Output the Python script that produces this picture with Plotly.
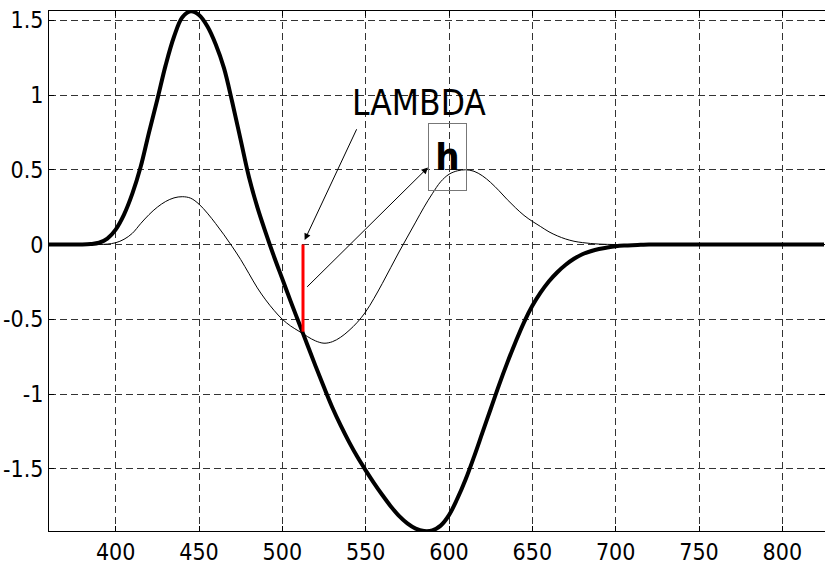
import plotly.graph_objects as go

x_vals = list(range(360, 830, 5))

thick_pts = {
    385: 0.003, 390: 0.012, 395: 0.04, 400: 0.1, 405: 0.2, 410: 0.34,
    415: 0.52, 420: 0.75, 425: 0.97, 430: 1.2, 435: 1.39, 440: 1.52, 445: 1.56,
    450: 1.535, 455: 1.46, 460: 1.34, 465: 1.18, 470: 0.95, 475: 0.7,
    480: 0.45, 485: 0.25, 490: 0.08, 495: -0.08, 500: -0.23, 505: -0.38,
    510: -0.525, 515: -0.67, 520: -0.815, 525: -0.955, 530: -1.09, 535: -1.21,
    540: -1.32, 545: -1.42, 550: -1.51, 555: -1.595, 560: -1.675, 565: -1.75,
    570: -1.815, 575: -1.865, 580: -1.9, 585: -1.916, 590: -1.912, 595: -1.88,
    600: -1.81, 605: -1.7, 610: -1.57, 615: -1.42, 620: -1.26, 625: -1.1,
    630: -0.94, 635: -0.79, 640: -0.65, 645: -0.52, 650: -0.41, 655: -0.32,
    660: -0.245, 665: -0.185, 670: -0.135, 675: -0.095, 680: -0.065,
    685: -0.045, 690: -0.03, 695: -0.02, 700: -0.012, 705: -0.007,
    710: -0.004, 715: -0.002,
}
thin_pts = {
    395: 0.003, 400: 0.012, 405: 0.035, 410: 0.075, 415: 0.14, 420: 0.2,
    425: 0.25, 430: 0.288, 435: 0.312, 440: 0.32, 445: 0.31, 450: 0.27,
    455: 0.21, 460: 0.14, 465: 0.065, 470: -0.015, 475: -0.1, 480: -0.195,
    485: -0.29, 490: -0.37, 495: -0.44, 500: -0.5, 505: -0.545, 510: -0.58,
    515: -0.615, 520: -0.645, 525: -0.66, 530: -0.65, 535: -0.62, 540: -0.575,
    545: -0.52, 550: -0.45, 555: -0.36, 560: -0.26, 565: -0.155, 570: -0.05,
    575: 0.05, 580: 0.15, 585: 0.25, 590: 0.34, 595: 0.42, 600: 0.47,
    605: 0.493, 610: 0.5, 615: 0.49, 620: 0.46, 625: 0.415, 630: 0.36,
    635: 0.3, 640: 0.245, 645: 0.195, 650: 0.155, 655: 0.12, 660: 0.085,
    665: 0.058, 670: 0.037, 675: 0.022, 680: 0.013, 685: 0.007, 690: 0.003,
    695: 0.001,
}
thick_y = [thick_pts.get(x, 0) for x in x_vals]
thin_y = [thin_pts.get(x, 0) for x in x_vals]

lambda_x = 512.4
lambda_y = [0, -0.583]

x_ticks = [400, 450, 500, 550, 600, 650, 700, 750, 800]
y_ticks = [-1.5, -1, -0.5, 0, 0.5, 1, 1.5]
y_ticktext = ["-1.5", "-1", "-0.5", "0", "0.5", "1", "1.5"]

FONT = "Liberation Sans Narrow, Arial Narrow, DejaVu Sans Condensed, Arial, sans-serif"

fig = go.Figure()
fig.add_trace(go.Scatter(x=x_vals, y=thin_y, mode="lines",
                         line=dict(color="black", width=1, shape="spline"),
                         showlegend=False))
fig.add_trace(go.Scatter(x=x_vals, y=thick_y, mode="lines",
                         line=dict(color="black", width=4, shape="spline"),
                         showlegend=False))
fig.add_trace(go.Scatter(x=[lambda_x, lambda_x], y=lambda_y, mode="lines",
                         line=dict(color="#ff0000", width=3),
                         showlegend=False))

fig.add_annotation(x=582.1, y=0.946, text="LAMBDA", showarrow=False,
                   font=dict(family=FONT, size=35, color="black"))
fig.add_annotation(x=598.8, y=0.585, text="<b>h</b>", showarrow=False,
                   font=dict(family=FONT, size=38, color="black"),
                   bordercolor="#777", borderwidth=1, width=35, height=64,
                   bgcolor="rgba(0,0,0,0)")
fig.add_annotation(x=513.4, y=0.03, ax=545, ay=0.781, axref="x", ayref="y",
                   text="", showarrow=True, arrowhead=2, arrowsize=1.3,
                   arrowwidth=1, arrowcolor="black")
fig.add_annotation(x=587.4, y=0.516, ax=514, ay=-0.293, axref="x", ayref="y",
                   text="", showarrow=True, arrowhead=2, arrowsize=1.3,
                   arrowwidth=1, arrowcolor="black")

fig.update_layout(
    width=825, height=565,
    margin=dict(l=49, r=0, t=11, b=34),
    plot_bgcolor="white", paper_bgcolor="white",
    font=dict(family=FONT, size=23, color="black"),
)
fig.update_xaxes(range=[360, 825.6], tickvals=x_ticks, ticks="inside", ticklen=5,
                 tickcolor="black", showline=True, linecolor="black", linewidth=1,
                 mirror="ticks", showgrid=True, gridcolor="#333", griddash="7px,4px",
                 gridwidth=1, zeroline=False, tickfont=dict(size=23))
fig.update_yaxes(range=[-1.916, 1.562], tickvals=y_ticks, ticktext=y_ticktext,
                 ticks="inside", ticklen=5, tickcolor="black", showline=True,
                 linecolor="black", linewidth=1, mirror="ticks", showgrid=True,
                 gridcolor="#333", griddash="7px,4px", gridwidth=1, zeroline=False,
                 tickfont=dict(size=23))

fig.write_html("out.html")
